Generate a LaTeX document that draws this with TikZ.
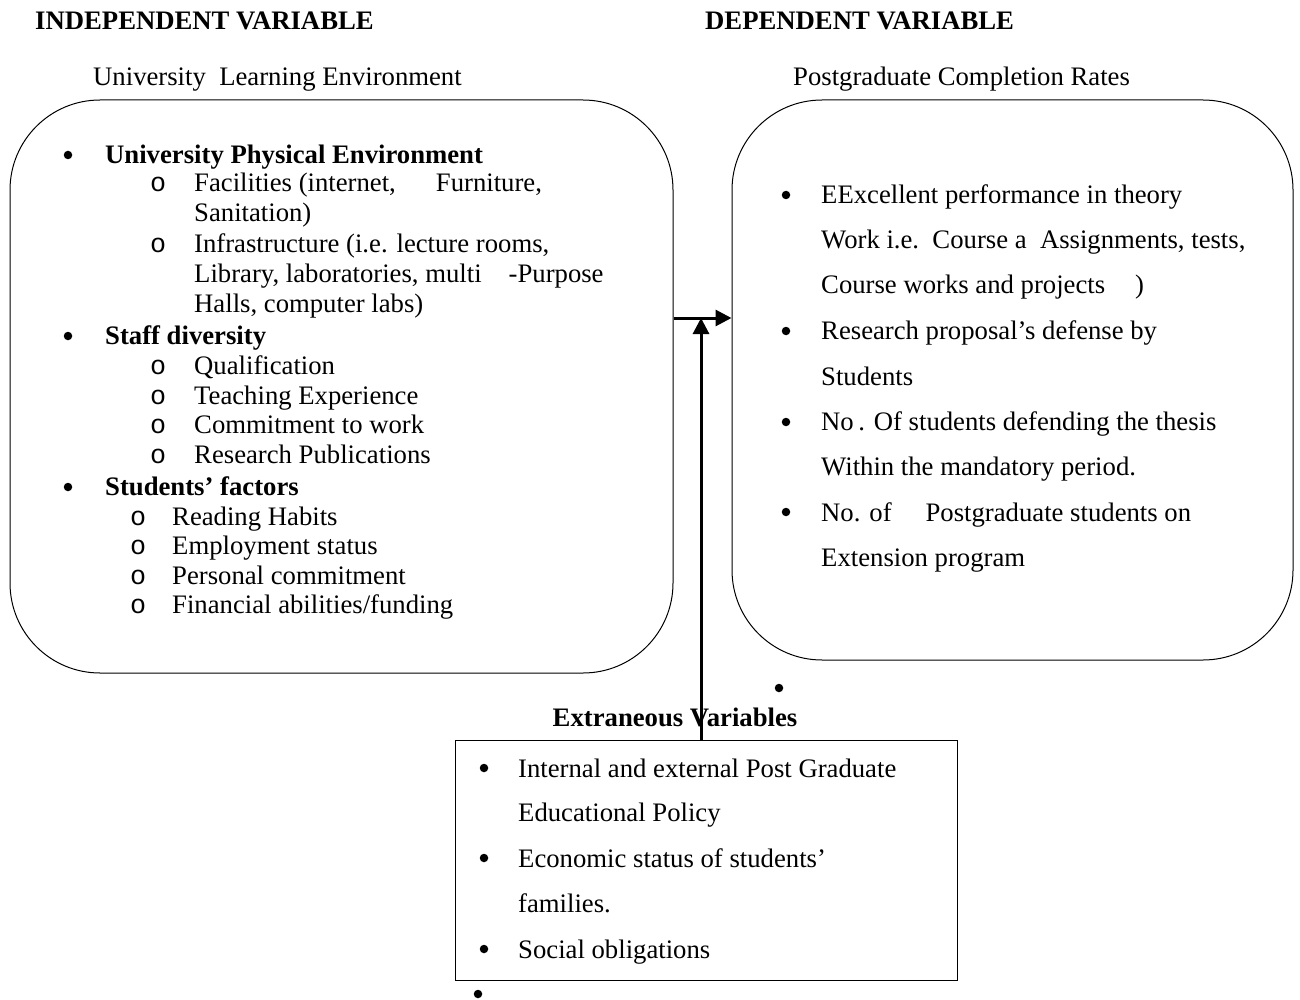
\documentclass[tikz,border=0pt]{standalone}
\usepackage{fontspec}
\setmainfont{Liberation Serif}
\newfontfamily\monofnt{Liberation Mono}
\usetikzlibrary{arrows.meta}
\tikzset{
  box/.style={draw, line width=1pt, inner sep=0pt},
  rbox/.style={box, rounded corners=90pt},
  txt/.style={anchor=base west, inner sep=0pt, font=\fontsize{26.7}{30}\selectfont},
  btxt/.style={txt, font=\fontsize{26.7}{30}\selectfont\bfseries},
  htxt/.style={anchor=base west, inner sep=0pt, font=\fontsize{26.7}{30}\selectfont\bfseries},
  stxt/.style={anchor=base west, inner sep=0pt, font=\fontsize{26.7}{30}\selectfont},
  bul/.style={circle, fill, inner sep=0pt, minimum size=8.5pt},
  arr/.style={line width=3pt, -{Triangle[length=16pt,width=16pt]}}
}
\newcommand{\sbul}{{\monofnt o}}
\begin{document}
\begin{tikzpicture}[x=1pt,y=-1pt]
\useasboundingbox (0,0) rectangle (1300,1000);
% headers
\node[htxt] (h1) at (35,30) {INDEPENDENT VARIABLE};
\node[htxt] (h2) at (705,30) {DEPENDENT VARIABLE};
\node[stxt] (s1) at (93,86) {University\ \ Learning Environment};
\node[stxt] (s2) at (793,86) {Postgraduate Completion Rates};
% boxes
\node[rbox, minimum width=663pt, minimum height=573pt] (L) at (341.5,386.5) {};
\node[rbox, minimum width=561pt, minimum height=560pt] (R) at (1012.5,380) {};
\node[box, minimum width=502pt, minimum height=240pt] (E) at (706,860) {};
% left box text
\node[bul] (b1) at (68,155) {};
\node[btxt] (t1) at (105,164) {University Physical Environment};
\node[txt] (o1) at (150,192) {\sbul};
\node[txt] (t2) at (194,192) {Facilities (internet,\hspace{40pt}Furniture,};
\node[txt] (t3) at (194,222) {Sanitation)};
\node[txt] (o2) at (150,252) {\sbul};
\node[txt] (t4) at (194,252) {Infrastructure (i.e. lecture rooms,};
\node[txt] (t5) at (194,282) {Library, laboratories, multi\hspace{27pt}-Purpose};
\node[txt] (t6) at (194,312) {Halls, computer labs)};
\node[bul] (b2) at (68,336) {};
\node[btxt] (t7) at (105,344) {Staff diversity};
\node[txt] (o3) at (150,374) {\sbul};
\node[txt] (t8) at (194,374) {Qualification};
\node[txt] (o4) at (150,404) {\sbul};
\node[txt] (t9) at (194,404) {Teaching Experience};
\node[txt] (o5) at (150,433) {\sbul};
\node[txt] (t10) at (194,433) {Commitment to work};
\node[txt] (o6) at (150,463) {\sbul};
\node[txt] (t11) at (194,463) {Research Publications};
\node[bul] (b3) at (68,487) {};
\node[btxt] (t12) at (105,495) {Students’ factors};
\node[txt] (o7) at (130,525) {\sbul};
\node[txt] (t13) at (172,525) {Reading Habits};
\node[txt] (o8) at (130,554) {\sbul};
\node[txt] (t14) at (172,554) {Employment status};
\node[txt] (o9) at (130,584) {\sbul};
\node[txt] (t15) at (172,584) {Personal commitment};
\node[txt] (o10) at (130,613) {\sbul};
\node[txt] (t16) at (172,613) {Financial abilities/funding};
% right box text
\node[bul] (rb1) at (786,195) {};
\node[stxt] (r1) at (821,204) {EExcellent performance in theory};
\node[stxt] (r2) at (821,249) {Work i.e.\ \ Course a\ \ Assignments, tests,};
\node[stxt] (r3) at (821,293) {Course works and projects\hspace{30pt})};
\node[bul] (rb2) at (786,331) {};
\node[stxt] (r4) at (821,339) {Research proposal’s defense by};
\node[stxt] (r5) at (821,385) {Students};
\node[bul] (rb3) at (786,422) {};
\node[stxt] (r6) at (821,430) {No\,. Of students defending the thesis};
\node[stxt] (r7) at (821,475) {Within the mandatory period.};
\node[bul] (rb4) at (786,512) {};
\node[stxt] (r8) at (821,521) {No. of\hspace{34pt}Postgraduate students on};
\node[stxt] (r9) at (821,566) {Extension program};
\node[bul] (rb5) at (779,688) {};
% extraneous
\node[anchor=base, inner sep=0pt, font=\fontsize{26.7}{30}\selectfont\bfseries] (et) at (675,726) {Extraneous Variables};
\node[bul] (eb1) at (484,768) {};
\node[stxt] (e1) at (518,777) {Internal and external Post Graduate};
\node[stxt] (e2) at (518,821) {Educational Policy};
\node[bul] (eb2) at (484,858) {};
\node[stxt] (e3) at (518,867) {Economic status of students’};
\node[stxt] (e4) at (518,912) {families.};
\node[bul] (eb3) at (484,949) {};
\node[stxt] (e5) at (518,958) {Social obligations};
\node[bul] (eb4) at (478,994) {};
% connectors
\coordinate (ja) at (L.east |- 0,318);
\coordinate (jv) at (701,318);
\draw[arr] (ja) -- (ja -| R.west);
\draw[arr] (E.north -| jv) -- (jv);
\end{tikzpicture}
\end{document}
